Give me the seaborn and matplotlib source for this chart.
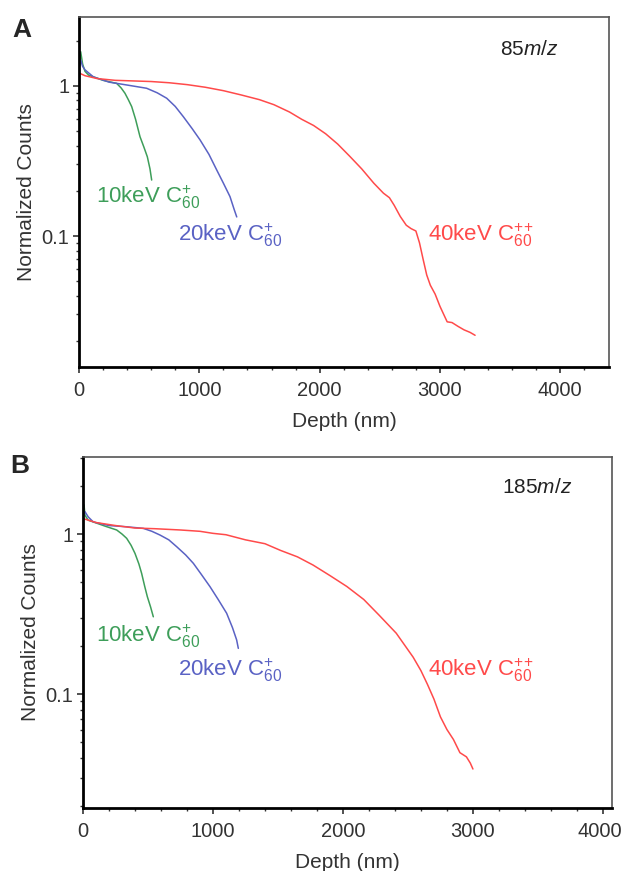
import numpy as np
import pandas as pd
import matplotlib
matplotlib.use("Agg")
import matplotlib.pyplot as plt
import matplotlib.transforms as mtransforms
import seaborn as sns
from matplotlib.ticker import FixedLocator, LogLocator, NullFormatter, FixedFormatter

# ---------------- data ----------------
# Panel A (85 m/z)
a10_x = [0, 14, 30, 50, 80, 119, 200, 313, 350, 382, 410, 438, 470, 507, 540, 568, 590, 604]
a10_y = [1.3, 1.69, 1.4, 1.25, 1.18, 1.15, 1.09, 1.04, 0.97, 0.894, 0.81, 0.728, 0.6, 0.459, 0.39, 0.337, 0.28, 0.236]

a20_x = [0, 14, 30, 50, 119, 250, 396, 562, 650, 729, 800, 867, 940, 1006, 1080, 1145, 1200, 1255, 1290, 1311]
a20_y = [1.3, 1.49, 1.35, 1.28, 1.15, 1.06, 1.015, 0.965, 0.9, 0.828, 0.73, 0.624, 0.52, 0.437, 0.35, 0.275, 0.225, 0.183, 0.15, 0.134]

a40_x = [0, 50, 150, 300, 450, 600, 750, 900, 1050, 1200, 1350, 1500, 1620, 1750, 1850, 1950, 2050, 2150,
         2250, 2350, 2450, 2530, 2580, 2620, 2670, 2720, 2760, 2800, 2830, 2860, 2890, 2920, 2960, 3000,
         3040, 3060, 3100, 3150, 3200, 3250, 3292]
a40_y = [1.22, 1.17, 1.12, 1.09, 1.08, 1.07, 1.05, 1.02, 0.98, 0.93, 0.87, 0.81, 0.75, 0.67, 0.6, 0.545, 0.48, 0.41,
         0.34, 0.28, 0.225, 0.193, 0.18, 0.16, 0.135, 0.118, 0.112, 0.108, 0.09, 0.07, 0.055, 0.047, 0.041, 0.034,
         0.029, 0.0268, 0.0265, 0.025, 0.0237, 0.0228, 0.0218]

# Panel B (185 m/z)
b10_x = [0, 8, 15, 40, 79, 170, 259, 300, 336, 370, 400, 430, 451, 475, 495, 520, 541]
b10_y = [1.35, 1.52, 1.31, 1.22, 1.19, 1.12, 1.06, 1.0, 0.94, 0.85, 0.757, 0.65, 0.568, 0.47, 0.406, 0.35, 0.304]

b20_x = [0, 15, 40, 79, 200, 336, 464, 530, 592, 660, 721, 790, 849, 910, 977, 1040, 1105, 1150, 1182, 1195]
b20_y = [1.3, 1.38, 1.28, 1.19, 1.13, 1.11, 1.085, 1.04, 0.986, 0.92, 0.833, 0.74, 0.656, 0.56, 0.469, 0.39, 0.32, 0.26, 0.218, 0.193]

b40_x = [0, 100, 250, 400, 550, 750, 900, 1000, 1100, 1250, 1400, 1520, 1650, 1770, 1900, 2030, 2160, 2280,
         2410, 2540, 2600, 2650, 2700, 2750, 2800, 2850, 2900, 2950, 2980, 3000]
b40_y = [1.25, 1.18, 1.13, 1.09, 1.08, 1.06, 1.04, 1.01, 0.99, 0.92, 0.87, 0.79, 0.72, 0.64, 0.55, 0.47, 0.39, 0.31,
         0.24, 0.17, 0.14, 0.115, 0.093, 0.072, 0.06, 0.052, 0.043, 0.0405, 0.037, 0.034]

series_names = ["10keV", "20keV", "40keV"]
series_labels = ["10keV C$_{60}^{+}$", "20keV C$_{60}^{+}$", r"40keV C$_{60}^{+\!+}$"]
x_ticks = [0, 1000, 2000, 3000, 4000]
x_tick_labels = ["0", "1000", "2000", "3000", "4000"]
y_ticks = [0.1, 1]
y_tick_labels = ["0.1", "1"]
panel_letters = ["A", "B"]
panel_mz = ["85", "185"]

colors = {"10keV": "#3e9e5a", "20keV": "#5a62c4", "40keV": "#ff4a4a"}

# ---------------- style ----------------
sns.set_theme(style="ticks")
plt.rcParams["font.family"] = ["Liberation Sans", "DejaVu Sans"]
plt.rcParams["mathtext.fontset"] = "custom"
plt.rcParams["mathtext.rm"] = "Liberation Sans"
plt.rcParams["mathtext.it"] = "Liberation Sans:italic"
plt.rcParams["mathtext.bf"] = "Liberation Sans:bold"

fig = plt.figure(figsize=(6.23, 8.71), dpi=100)
W, H = 623, 871
def rect(l, t, r, b):
    return [l / W, 1 - b / H, (r - l) / W, (b - t) / H]

axA = fig.add_axes(rect(79, 17, 609, 367))
axB = fig.add_axes(rect(83, 457, 612, 808))

def make_df(xs, ys):
    frames = []
    for name, x, y in zip(series_names, xs, ys):
        frames.append(pd.DataFrame({"Depth": x, "Counts": y, "series": name}))
    return pd.concat(frames, ignore_index=True)

dfA = make_df([a10_x, a20_x, a40_x], [a10_y, a20_y, a40_y])
dfB = make_df([b10_x, b20_x, b40_x], [b10_y, b20_y, b40_y])

panels = [
    dict(ax=axA, df=dfA, xlim=(0, 4405), ylim=(0.0134, 2.88),
         lab_pos=[(141, 0.18), (823, 0.101), (2900, 0.101)], mz_pos=(3500, 1.74)),
    dict(ax=axB, df=dfB, xlim=(0, 4070), ylim=(0.0194, 3.03),
         lab_pos=[(100, 0.23), (730, 0.141), (2654, 0.141)], mz_pos=(3223, 1.94)),
]

for i, p in enumerate(panels):
    ax = p["ax"]
    sns.lineplot(data=p["df"], x="Depth", y="Counts", hue="series", palette=colors,
                 ax=ax, legend=False, linewidth=1.1, sort=False, estimator=None)
    ax.set_yscale("log")
    ax.set_xlim(*p["xlim"])
    ax.set_ylim(*p["ylim"])
    ax.xaxis.set_major_locator(FixedLocator(x_ticks))
    ax.xaxis.set_major_formatter(FixedFormatter(x_tick_labels))
    ax.xaxis.set_minor_locator(FixedLocator(np.arange(0, 4400, 200)))
    ax.yaxis.set_major_locator(FixedLocator(y_ticks))
    ax.yaxis.set_major_formatter(FixedFormatter(y_tick_labels))
    ax.yaxis.set_minor_locator(LogLocator(base=10, subs=np.arange(2, 10), numticks=20))
    ax.yaxis.set_minor_formatter(NullFormatter())
    ax.tick_params(axis="both", which="major", direction="out", length=4, width=1.2,
                   labelsize=14.5, colors="#333333", pad=6)
    ax.tick_params(axis="both", which="minor", direction="out", length=2.5, width=1.0, colors="#333333")
    ax.tick_params(axis="y", which="major", pad=3)
    for s in ["left", "bottom"]:
        ax.spines[s].set_linewidth(2.0)
        ax.spines[s].set_color("black")
    for s in ["top", "right"]:
        ax.spines[s].set_visible(True)
        ax.spines[s].set_linewidth(1.2)
        ax.spines[s].set_color("#555555")
    ax.set_xlabel("Depth (nm)", fontsize=15, color="#333333", labelpad=9)
    ax.set_ylabel("Normalized Counts", fontsize=15, color="#333333", labelpad=4)
    for name, lab, (lx, ly) in zip(series_names, series_labels, p["lab_pos"]):
        ax.text(lx, ly, lab, color=colors[name], fontsize=16, ha="left", va="center")
    ax.text(p["mz_pos"][0], p["mz_pos"][1], panel_mz[i] + r"$\mathit{m/z}$", fontsize=15,
            color="#222222", ha="left", va="center")

# keep the last tick label of panel B inside the figure: nudge it a few pixels left
fig.canvas.draw()
lastB = axB.xaxis.get_major_ticks()[-1].label1
lastB.set_transform(lastB.get_transform() + mtransforms.ScaledTranslation(-3 / 100, 0, fig.dpi_scale_trans))

fig.text(12 / W, 1 - 30 / H, panel_letters[0], fontsize=19, fontweight="bold", ha="left", va="center")
fig.text(10 / W, 1 - 466 / H, panel_letters[1], fontsize=19, fontweight="bold", ha="left", va="center")

fig.savefig("out.png", dpi=100)
